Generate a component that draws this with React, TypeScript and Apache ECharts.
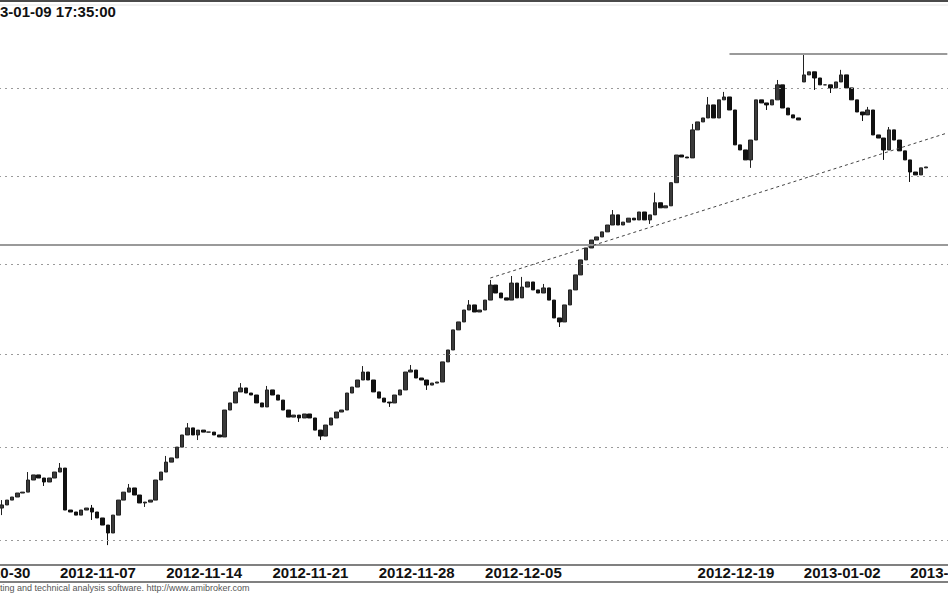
import React, { useEffect, useRef } from 'react';
import * as echarts from 'echarts';

// Trading days shown on the chart (last one is an empty slot at the right edge)
const days = [
  '2012-10-30', '2012-10-31', '2012-11-02', '2012-11-05', '2012-11-06',
  '2012-11-07', '2012-11-08', '2012-11-09', '2012-11-12', '2012-11-13',
  '2012-11-14', '2012-11-15', '2012-11-16', '2012-11-19', '2012-11-20',
  '2012-11-21', '2012-11-22', '2012-11-23', '2012-11-26', '2012-11-27',
  '2012-11-28', '2012-11-29', '2012-11-30', '2012-12-03', '2012-12-04',
  '2012-12-05', '2012-12-06', '2012-12-07', '2012-12-10', '2012-12-11',
  '2012-12-12', '2012-12-13', '2012-12-14', '2012-12-17', '2012-12-18',
  '2012-12-19', '2012-12-20', '2012-12-21', '2012-12-27', '2012-12-28',
  '2013-01-02', '2013-01-03', '2013-01-04', '2013-01-07', '2013-01-08',
  '2013-01-09', '2013-01-10',
];
const slots = ['09:00', '11:00', '13:00', '15:00'];

// Dates that get a tick and a label on the time axis
const labeledDays = [
  '2012-10-30', '2012-11-07', '2012-11-14', '2012-11-21', '2012-11-28',
  '2012-12-05', '2012-12-19', '2013-01-02', '2013-01-09',
];

// Closing price of each bar (4 bars per trading day)
const closes = [
  2369.4, 2372.1, 2369.4, 2372.1,
  2372.1, 2369.4, 2372.1, 2369.4,
  2367.7, 2369.4, 2372.1, 2373.8,
  2376.0, 2376.5, 2383.2, 2386.0,
  2384.3, 2382.1, 2384.3, 2387.6,
  2389.8, 2366.6, 2365.5, 2363.8,
  2366.6, 2367.7, 2365.5, 2362.2,
  2358.3, 2353.9, 2363.8, 2372.1,
  2376.5, 2378.8, 2374.9, 2370.5,
  2371.0, 2372.1, 2383.2, 2387.6,
  2393.1, 2395.4, 2401.4, 2408.1,
  2412.0, 2408.1, 2410.8, 2409.7,
  2409.7, 2408.1, 2407.0, 2421.9,
  2425.8, 2431.9, 2434.1, 2431.3,
  2430.2, 2425.8, 2423.6, 2433.0,
  2430.2, 2427.4, 2421.9, 2418.0,
  2419.1, 2417.5, 2419.7, 2417.5,
  2410.8, 2407.5, 2413.6, 2417.5,
  2420.8, 2421.9, 2431.3, 2434.6,
  2438.5, 2442.9, 2438.5, 2431.9,
  2428.5, 2426.3, 2425.8, 2430.2,
  2433.0, 2442.9, 2444.0, 2439.6,
  2438.5, 2435.7, 2436.8, 2437.4,
  2448.5, 2455.1, 2466.2, 2470.6,
  2477.2, 2480.0, 2476.1, 2477.2,
  2482.7, 2491.0, 2486.6, 2483.9,
  2482.7, 2492.1, 2483.9, 2489.9,
  2492.7, 2488.3, 2486.6, 2489.4,
  2482.7, 2472.8, 2470.6, 2480.0,
  2488.3, 2496.6, 2504.9, 2511.5,
  2515.9, 2517.6, 2520.4, 2524.2,
  2529.8, 2524.2, 2525.8, 2528.0,
  2527.0, 2531.4, 2527.0, 2529.8,
  2536.5, 2533.7, 2534.8, 2547.6,
  2562.9, 2561.8, 2561.3, 2576.8,
  2581.2, 2583.4, 2590.6, 2583.4,
  2593.4, 2595.0, 2587.8, 2568.5,
  2565.7, 2560.2, 2571.2, 2593.4,
  2591.7, 2590.6, 2593.4, 2601.7,
  2588.9, 2585.1, 2583.4, 2582.3,
  2607.2, 2608.9, 2605.5, 2601.7,
  2601.7, 2600.0, 2603.3, 2607.2,
  2600.0, 2593.4, 2586.7, 2585.1,
  2587.8, 2574.0, 2572.3, 2565.7,
  2576.8, 2571.2, 2565.2, 2560.2,
  2553.5, 2551.9, 2555.8, 2556.3,
];

// Bars whose open differs from the previous close (opening gaps): [bar index, open]
const gapOpens: [number, number][] = [[160, 2603.3]];
// Wick extremes: [bar index, value]
const wickHighs: [number, number][] = [
  [9, 2372.1], [14, 2387.6], [20, 2392.6], [26, 2369.4], [33, 2381.0],
  [40, 2396.5], [44, 2414.7], [54, 2436.8], [59, 2435.2], [77, 2446.2],
  [86, 2446.8], [97, 2482.7], [101, 2493.8], [105, 2496.0], [107, 2495.5],
  [111, 2491.6], [124, 2532.5], [132, 2542.1], [139, 2580.1], [142, 2595.0],
  [145, 2597.8], [155, 2604.4], [160, 2618.8], [167, 2610.0], [172, 2589.5],
  [176, 2578.4],
];
const wickLows: [number, number][] = [
  [9, 2363.8], [17, 2379.9], [26, 2361.1], [29, 2347.2], [36, 2368.3],
  [46, 2405.3], [65, 2415.3], [69, 2405.3], [82, 2423.6], [89, 2433.0],
  [114, 2467.8], [131, 2524.8], [150, 2555.8], [153, 2587.8], [162, 2598.9],
  [165, 2597.2], [171, 2581.7], [175, 2560.2], [180, 2548.0],
];

// Horizontal dotted grid levels
const gridLevels = [2350, 2401.5, 2452.5, 2502.5, 2551, 2600];
// Drawn lines
const supportLevel = 2513.2;
const resistanceLevel = 2618.8;
const resistanceFrom = '2012-12-20 13:00';
const trendStart: [string, number] = ['2012-12-05 11:00', 2494.9];
const trendEnd: [string, number] = ['2013-01-10 15:00', 2575.1];
const lastCategory = '2013-01-10 15:00';

const titleText = '3-01-09 17:35:00';
const footText = 'ting and technical analysis software. http://www.amibroker.com';

const FONT = '"Liberation Sans", Arial, sans-serif';

export default function App() {
  const ref = useRef<HTMLDivElement>(null);

  useEffect(() => {
    if (!ref.current) return;
    const chart = echarts.init(ref.current, undefined, { renderer: 'svg' });

    const categories = days.flatMap((d) => slots.map((s) => `${d} ${s}`));
    const openMap = new Map(gapOpens);
    const highMap = new Map(wickHighs);
    const lowMap = new Map(wickLows);
    const ohlc = closes.map((c, i) => {
      const o = openMap.has(i) ? (openMap.get(i) as number) : i === 0 ? c : closes[i - 1];
      const h = Math.max(o, c, highMap.has(i) ? (highMap.get(i) as number) : -Infinity);
      const l = Math.min(o, c, lowMap.has(i) ? (lowMap.get(i) as number) : Infinity);
      return [o, c, l, h];
    });

    const isLabeled = (index: number, value: string) => {
      const cat = typeof value === 'string' ? value : categories[index];
      return cat.endsWith(slots[0]) && labeledDays.includes(cat.slice(0, 10));
    };

    const option: any = {
      animation: false,
      backgroundColor: '#ffffff',
      grid: {
        left: -49,
        right: -2,
        top: 8,
        bottom: 28,
        containLabel: false,
        outerBoundsMode: 'none',
      },
      xAxis: {
        type: 'category',
        data: categories,
        boundaryGap: true,
        axisLine: { lineStyle: { color: '#808080', width: 2 } },
        axisTick: {
          interval: isLabeled,
          length: 5,
          lineStyle: { color: '#333', width: 1 },
        },
        axisLabel: {
          interval: isLabeled,
          formatter: (v: string) => v.slice(0, 10),
          align: 'left',
          fontSize: 15,
          lineHeight: 9,
          fontWeight: 'bold',
          fontFamily: FONT,
          color: '#111',
          margin: 3,
        },
        splitLine: { show: false },
      },
      yAxis: {
        type: 'value',
        show: false,
        min: 2336.2,
        max: 2644.2,
        splitLine: { show: false },
      },
      series: [
        {
          type: 'candlestick',
          data: ohlc,
          barWidth: 4,
          itemStyle: {
            color: '#3a3a3a',
            color0: '#111111',
            borderColor: '#222222',
            borderColor0: '#111111',
            borderWidth: 1,
          },
          markLine: {
            silent: true,
            symbol: ['none', 'none'],
            label: { show: false },
            animation: false,
            data: [
              ...gridLevels.map((v) => ({
                yAxis: v,
                lineStyle: { type: [2, 4], color: '#9a9a9a', width: 1 },
              })),
              {
                yAxis: supportLevel,
                lineStyle: { type: 'solid', color: '#9a9a9a', width: 2 },
              },
              [
                {
                  coord: [resistanceFrom, resistanceLevel],
                  lineStyle: { type: 'solid', color: '#9a9a9a', width: 2 },
                },
                { coord: [lastCategory, resistanceLevel] },
              ],
              [
                {
                  coord: trendStart,
                  lineStyle: { type: [3, 3], color: '#444', width: 1 },
                },
                { coord: trendEnd },
              ],
            ],
          },
        },
      ],
      graphic: [
        { type: 'rect', shape: { x: 0, y: 0, width: 948, height: 2 }, style: { fill: '#4a4a4a' } },
        { type: 'line', shape: { x1: 0, y1: 5, x2: 948, y2: 5 }, style: { stroke: '#e6e6e6', lineWidth: 1 } },
        {
          type: 'text',
          x: 0,
          y: 11,
          style: {
            text: titleText,
            font: `bold 15px ${FONT}`,
            fill: '#111',
            verticalAlign: 'middle',
          },
        },
        { type: 'line', shape: { x1: 0, y1: 582, x2: 948, y2: 582 }, style: { stroke: '#808080', lineWidth: 2 } },
        {
          type: 'text',
          x: 0,
          y: 587.5,
          style: {
            text: footText,
            font: `9px ${FONT}`,
            fill: '#555',
            verticalAlign: 'middle',
          },
        },
      ],
    };

    chart.setOption(option);
    return () => chart.dispose();
  }, []);

  return (
    <div
      ref={ref}
      style={{ position: 'fixed', left: 0, top: 0, width: 948, height: 593, background: '#fff' }}
    />
  );
}
